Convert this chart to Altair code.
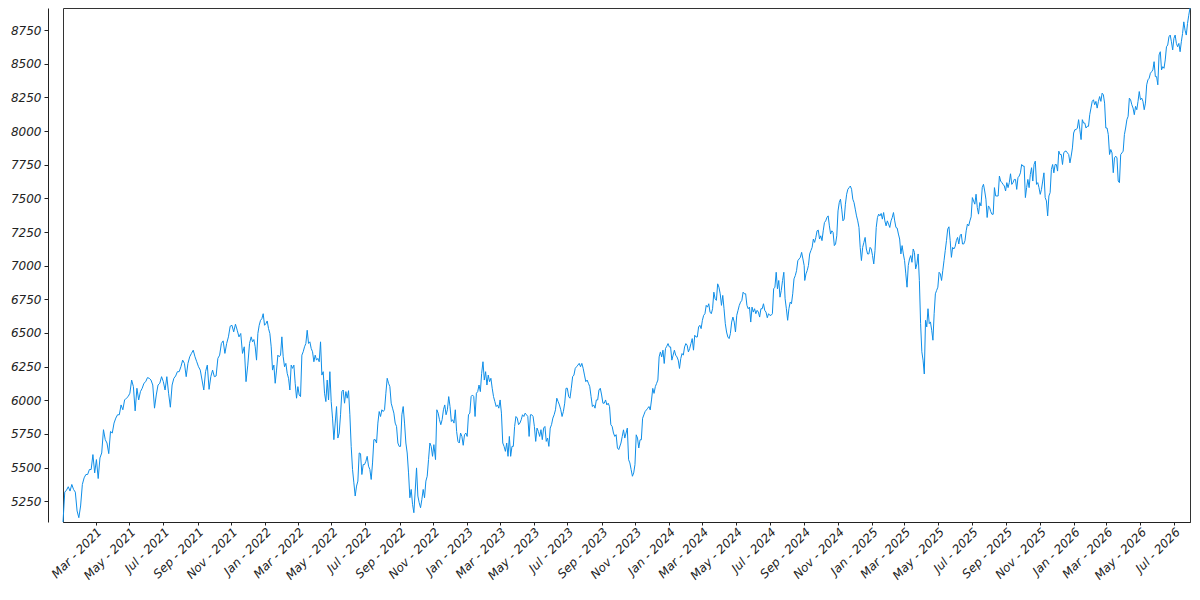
import altair as alt
import pandas as pd

# ---- values, segment by segment ----
seg_start = ["2021-01-01", "2021-12-07", "2022-11-05", "2023-10-06", "2024-09-02", "2025-08-04"]
seg_end = ["2021-12-04", "2022-11-02", "2023-10-02", "2024-09-01", "2025-08-02", "2026-07-30"]

vals_a = [5095, 5317, 5332, 5357, 5325, 5374, 5337, 5317, 5177, 5127, 5214, 5374, 5423, 5448, 5448, 5485,
          5485, 5596, 5460, 5559, 5418, 5571, 5608, 5781, 5707, 5682, 5603, 5768, 5756, 5830, 5867, 5892,
          5892, 5965, 5929, 6002, 6015, 6027, 6052, 6150, 6101, 5921, 6089, 6002, 6064, 6089, 6126, 6138,
          6168, 6163, 6150, 6113, 5941, 6039, 6113, 6126, 6175, 6138, 6076, 6175, 6052, 5948, 6113, 6163,
          6180, 6212, 6212, 6249, 6298, 6274, 6175, 6274, 6323, 6348, 6372, 6323, 6286, 6249, 6224, 6150,
          6076, 6212, 6261, 6081, 6175, 6224, 6175, 6180, 6311, 6335, 6422, 6441, 6348, 6422, 6471, 6550,
          6557, 6508, 6565, 6520, 6471, 6496, 6348, 6397, 6138, 6261, 6422]

vals_b = [6471, 6434, 6451, 6397, 6298, 6496, 6557, 6594, 6606, 6643, 6557, 6569, 6589, 6532, 6496, 6397,
          6224, 6261, 6126, 6224, 6335, 6323, 6335, 6471, 6323, 6249, 6274, 6200, 6163, 6076, 6261, 6237,
          6261, 6126, 6015, 6101, 6039, 6027, 6335, 6360, 6397, 6422, 6520, 6422, 6434, 6385, 6360, 6286,
          6335, 6298, 6311, 6286, 6434, 6187, 6212, 6052, 5990, 6150, 6002, 6212, 5990, 5867, 5707, 5830,
          5953, 5719, 5756, 5892, 6064, 6076, 5978, 6064, 6015, 6071, 5892, 5657, 5485, 5386, 5288, 5362,
          5399, 5608, 5603, 5448, 5522, 5522, 5546, 5583, 5510, 5485, 5411, 5534, 5707, 5707, 5682, 5830,
          5916, 5879, 5929, 5916, 5929, 6052, 6163, 6126, 6101, 5978, 5941, 5904, 5830, 5805, 5682, 5657,
          5657, 5892, 5953, 5830, 5682, 5608, 5460, 5275, 5337, 5226, 5164, 5325, 5497, 5288, 5238, 5201,
          5263, 5337, 5275, 5399, 5435, 5559, 5682, 5657, 5583, 5670]

vals_c = [5559, 5929, 5904, 5855, 5818, 5855, 5929, 5965, 5892, 5929, 6027, 5953, 5842, 5855, 5830, 5929,
          5768, 5694, 5682, 5756, 5731, 5665, 5744, 5756, 5731, 5892, 5904, 6027, 6039, 6027, 5879, 6052,
          6064, 6113, 6064, 6200, 6286, 6150, 6212, 6113, 6187, 6138, 6163, 6089, 6027, 5990, 5953, 5965,
          5941, 6002, 5904, 5682, 5657, 5620, 5682, 5583, 5731, 5583, 5657, 5657, 5805, 5879, 5867, 5818,
          5830, 5855, 5892, 5879, 5904, 5892, 5879, 5731, 5892, 5892, 5879, 5805, 5694, 5793, 5768, 5731,
          5781, 5707, 5793, 5805, 5694, 5719, 5657, 5793, 5818, 5867, 5892, 5929, 6015, 5990, 5965, 5929,
          5879, 5916, 5978, 6089, 6089, 6027, 6015, 6089, 6175, 6187, 6237, 6249, 6261, 6274, 6249, 6274,
          6237, 6187, 6138, 6150, 6126, 6101, 6027, 5953, 5965, 5941, 6002, 6002, 6076, 6089, 6039, 5978,
          5978, 6002, 5965, 5978, 5953, 5818, 5805, 5756, 5731, 5744, 5645, 5633]

vals_d = [5682, 5731, 5780, 5719, 5756, 5793, 5558, 5534, 5484, 5435, 5460, 5521, 5743, 5719, 5645, 5706,
          5706, 5866, 5891, 5916, 5928, 5940, 5953, 5928, 6002, 6088, 6051, 6101, 6125, 6150, 6322, 6359,
          6322, 6372, 6273, 6384, 6401, 6421, 6396, 6396, 6298, 6335, 6372, 6335, 6322, 6298, 6236, 6310,
          6347, 6335, 6396, 6421, 6409, 6359, 6384, 6421, 6458, 6372, 6483, 6470, 6470, 6544, 6557, 6532,
          6594, 6631, 6643, 6705, 6692, 6717, 6655, 6643, 6680, 6803, 6754, 6742, 6865, 6840, 6791, 6705,
          6779, 6680, 6569, 6507, 6470, 6458, 6495, 6581, 6618, 6581, 6507, 6631, 6668, 6705, 6729, 6742,
          6803, 6791, 6791, 6705, 6680, 6692, 6581, 6692, 6655, 6680, 6643, 6668, 6655, 6618, 6680, 6680,
          6717, 6668, 6655, 6613, 6643, 6631, 6631, 6643, 6828, 6840, 6951, 6828, 6890, 6766, 6816, 6890,
          6951, 6754, 6680, 6594, 6680, 6729, 6717, 6791, 6902, 6926, 6963, 7037, 7050, 7062, 7099, 7050,
          7000]

vals_e = [6890, 6939, 6964, 7001, 7087, 7112, 7136, 7198, 7173, 7210, 7259, 7264, 7198, 7222, 7186, 7259,
          7321, 7333, 7358, 7370, 7296, 7235, 7259, 7247, 7149, 7161, 7222, 7407, 7469, 7494, 7420, 7333,
          7346, 7457, 7531, 7568, 7580, 7592, 7568, 7494, 7469, 7420, 7370, 7333, 7284, 7136, 7038, 7136,
          7173, 7210, 7124, 7087, 7087, 7136, 7124, 7075, 7013, 7112, 7284, 7358, 7383, 7370, 7388, 7346,
          7395, 7333, 7296, 7333, 7309, 7284, 7333, 7358, 7395, 7333, 7284, 7279, 7235, 7198, 7087, 7149,
          7087, 7038, 6939, 6840, 7001, 7050, 7075, 7025, 7124, 7099, 6976, 7013, 7087, 6890, 6569, 6360,
          6298, 6195, 6594, 6545, 6680, 6569, 6582, 6520, 6446, 6643, 6791, 6816, 6840, 6951, 6939, 6890,
          6964, 7038, 7112, 7186, 7272, 7289, 7186, 7062, 7136, 7124, 7141, 7186, 7210, 7161, 7222, 7235,
          7161, 7161, 7186, 7259, 7309, 7296, 7333, 7363, 7506, 7481, 7457, 7531, 7432, 7383, 7469, 7444,
          7580, 7605, 7555, 7494, 7358, 7444, 7432]

vals_f = [7402, 7382, 7382, 7580, 7518, 7518, 7518, 7666, 7629, 7617, 7604, 7592, 7555, 7617, 7580, 7617,
          7683, 7604, 7617, 7641, 7641, 7567, 7654, 7666, 7690, 7752, 7740, 7740, 7506, 7580, 7641, 7580,
          7678, 7728, 7629, 7752, 7777, 7604, 7617, 7580, 7530, 7567, 7629, 7690, 7506, 7481, 7370, 7518,
          7543, 7715, 7752, 7690, 7752, 7752, 7703, 7851, 7826, 7826, 7752, 7838, 7851, 7851, 7838, 7826,
          7764, 7814, 7875, 7986, 8011, 8011, 8023, 8085, 8011, 7937, 8085, 8060, 8060, 8023, 8036, 8036,
          8122, 8171, 8221, 8233, 8196, 8221, 8171, 8221, 8257, 8221, 8282, 8270, 8208, 8023, 8023, 7974,
          7826, 7863, 7838, 7691, 7801, 7814, 7801, 7629, 7617, 7826, 7838, 7851, 7974, 8023, 8085, 8110,
          8245, 8233, 8196, 8171, 8122, 8184, 8159, 8221, 8294, 8233, 8245, 8221, 8159, 8208, 8344, 8381,
          8393, 8430, 8442, 8455, 8516, 8405, 8405, 8344, 8566, 8590, 8455, 8479, 8467, 8529, 8627, 8640,
          8701, 8714, 8664, 8603, 8689, 8714, 8652, 8627, 8652, 8590, 8664, 8726, 8812, 8750, 8714, 8800,
          8861, 8915]

y_ticks = [5250, 5500, 5750, 6000, 6250, 6500, 6750, 7000, 7250, 7500, 7750, 8000, 8250, 8500, 8750]
x_tick_months = [(y, m) for y in range(2021, 2027) for m in (1, 3, 5, 7, 9, 11)
                 if (y, m) >= (2021, 3) and (y, m) <= (2026, 7)]

frames = []
for s, e, v in zip(seg_start, seg_end, [vals_a, vals_b, vals_c, vals_d, vals_e, vals_f]):
    frames.append(pd.DataFrame({"date": pd.date_range(s, e, periods=len(v)), "value": v}))
df = pd.concat(frames, ignore_index=True)

x_values = [alt.DateTime(year=y, month=m, date=1) for y, m in x_tick_months]

chart = (
    alt.Chart(df)
    .mark_line(color="#0e8ee8", strokeWidth=1)
    .encode(
        x=alt.X(
            "date:T",
            title=None,
            scale=alt.Scale(nice=False),
            axis=alt.Axis(
                values=x_values,
                format="%b - %Y",
                labelAngle=-45,
                labelAlign="right",
                labelBaseline="top",
                labelOverlap=False,
                labelPadding=1,
                tickSize=3,
                grid=False,
            ),
        ),
        y=alt.Y(
            "value:Q",
            title=None,
            scale=alt.Scale(domain=[5095, 8915], nice=False, zero=False),
            axis=alt.Axis(
                values=y_ticks,
                format="d",
                offset=15,
                tickSize=4,
                labelPadding=3,
                grid=False,
                labelOverlap=False,
            ),
        ),
    )
    .properties(
        width=1127,
        height=514,
        autosize=alt.AutoSizeParams(type="none"),
        padding={"left": 55, "top": 0, "right": 2, "bottom": 70},
    )
    .configure_axis(
        labelFont="DejaVu Sans",
        labelFontStyle="italic",
        labelFontSize=12,
        labelColor="#222222",
        domainColor="#222222",
        tickColor="#222222",
        domainWidth=1,
    )
    .configure_view(stroke="#333333", strokeWidth=1)
)

chart.save("out.html", embed_options={"renderer": "svg", "actions": False})
